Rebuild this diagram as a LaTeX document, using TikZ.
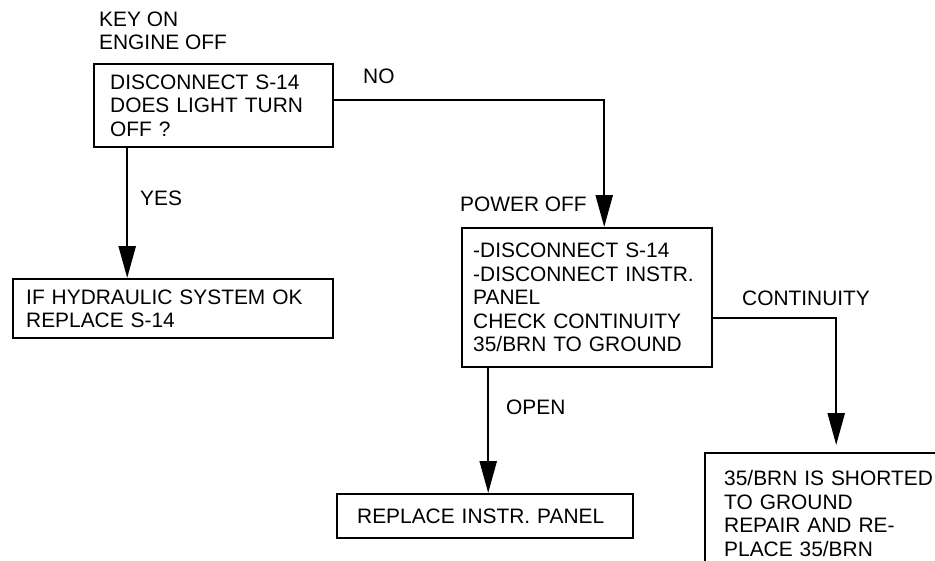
\documentclass[tikz,border=0pt]{standalone}
\usepackage{fontspec}
\setmainfont{Liberation Sans}
\usetikzlibrary{arrows.meta,positioning}

\begin{document}
\begin{tikzpicture}[
  x=1pt,y=-1pt,
  font=\fontsize{20.9}{23.5}\selectfont,
  stepbox/.style={draw,line width=2.4pt,anchor=north west,align=left,inner ysep=0pt},
  note/.style={inner sep=0pt,anchor=west},
  arr/.style={-{Triangle[length=32pt,width=17pt]},line width=2.4pt}
]
\useasboundingbox (0,0) rectangle (935,560);
\clip (0,0) rectangle (935,560);

\node[note,anchor=north west,align=left] (key) at (99,11.5) {KEY ON\\ENGINE OFF};

\node[stepbox,minimum height=83pt,text width=207pt,inner xsep=16pt] (dis) at (93,63)
  {DISCONNECT S-14\\DOES LIGHT TURN\\OFF ?};
\node[stepbox,minimum height=59pt,text width=294pt,inner xsep=13pt] (hyd) at (12,278)
  {IF HYDRAULIC SYSTEM OK\\REPLACE S-14};
\node[stepbox,minimum height=139pt,text width=228pt,inner xsep=11pt] (chk) at (461,227)
  {-DISCONNECT S-14\\-DISCONNECT~INSTR.\\PANEL\\CHECK CONTINUITY\\35/BRN TO GROUND};
\node[stepbox,minimum height=44pt,text width=256pt,inner xsep=20pt] (pnl) at (336,493)
  {REPLACE~INSTR.~PANEL};
\node[stepbox,minimum height=120.5pt,text width=222pt,inner xsep=19pt] (brn) at (704,452)
  {35/BRN~IS~SHORTED\\TO GROUND\\REPAIR AND RE-\\PLACE 35/BRN};

\node[note] (no) at (363,76) {NO};
\node[note] (yes) at (140,198) {YES};
\node[note] (pwr) at (460,204) {POWER OFF};
\node[note] (cont) at (742,298) {CONTINUITY};
\node[note] (open) at (506,407) {OPEN};

\draw[arr] ([yshift=5.5pt]dis.east) -| ([xshift=17pt]chk.north);
\draw[arr] ([xshift=-86.5pt]dis.south) -- ([xshift=-86.5pt]dis.south |- hyd.north);
\draw[arr] ([xshift=-99pt]chk.south) -- ([xshift=-99pt]chk.south |- pnl.north);
\draw[arr,shorten >=7pt] ([yshift=-20.5pt]chk.east) -| ([xshift=1pt]brn.north);
\end{tikzpicture}
\end{document}
